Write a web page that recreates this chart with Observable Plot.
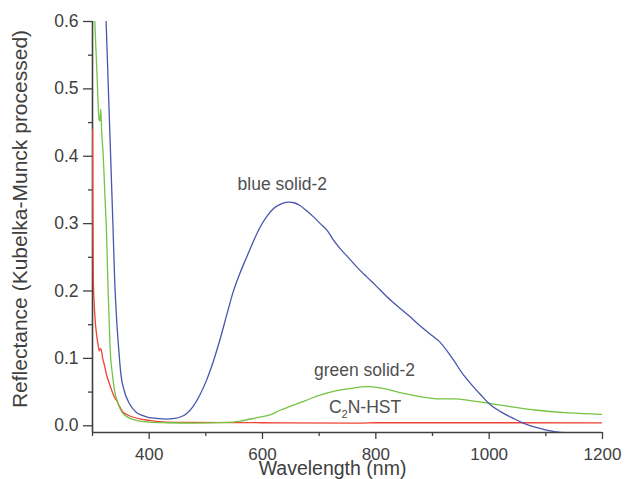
<!DOCTYPE html>
<html>
<head>
<meta charset="utf-8">
<script src="https://cdn.jsdelivr.net/npm/d3@7"></script>
<script src="https://cdn.jsdelivr.net/npm/@observablehq/plot@0.6"></script>
<style>
  html, body { margin: 0; padding: 0; background: #fff; }
  #chart { width: 625px; height: 479px; }
</style>
</head>
<body>
<div id="chart"></div>
<script>
// ---- Data ----
const blueNm  = [322, 324, 328, 332, 336, 339, 342, 346, 350, 356, 365, 377, 389, 400, 413, 430, 445, 455, 466, 477, 489, 501, 513, 525, 537, 548, 560, 572, 584, 596, 608, 619, 632, 646, 656, 666, 678, 690, 702, 714, 725, 737, 750, 765, 784, 800, 820, 843, 860, 880, 902, 911, 935, 955, 970, 985, 1001, 1020, 1044, 1060, 1073, 1090, 1103, 1120, 1144, 1170, 1200];
const blueVal = [0.64, 0.60, 0.50, 0.40, 0.30, 0.22, 0.166, 0.117, 0.077, 0.052, 0.033, 0.020, 0.015, 0.012, 0.011, 0.010, 0.011, 0.013, 0.018, 0.028, 0.045, 0.067, 0.095, 0.128, 0.165, 0.198, 0.226, 0.250, 0.274, 0.295, 0.311, 0.322, 0.329, 0.332, 0.331, 0.327, 0.319, 0.310, 0.300, 0.290, 0.276, 0.263, 0.251, 0.237, 0.221, 0.208, 0.191, 0.174, 0.162, 0.147, 0.132, 0.126, 0.100, 0.075, 0.060, 0.046, 0.032, 0.021, 0.0104, 0.004, 0.000, -0.004, -0.007, -0.009, -0.011, -0.013, -0.015];

const greenNm  = [302, 304, 308, 311, 312.5, 313.5, 314.5, 316, 319, 322, 325, 327, 329, 331, 335, 339, 345, 352, 362, 377, 401, 430, 480, 537, 560, 590, 613, 631, 650, 675, 700, 731, 760, 784, 810, 849, 880, 908, 938, 970, 1003, 1040, 1085, 1140, 1200];
const greenVal = [0.64, 0.60, 0.52, 0.46, 0.452, 0.455, 0.47, 0.44, 0.40, 0.34, 0.28, 0.216, 0.166, 0.117, 0.077, 0.052, 0.033, 0.020, 0.0128, 0.0079, 0.0054, 0.0045, 0.004, 0.005, 0.007, 0.012, 0.016, 0.023, 0.029, 0.037, 0.045, 0.052, 0.056, 0.058, 0.056, 0.048, 0.043, 0.040, 0.040, 0.037, 0.033, 0.028, 0.023, 0.019, 0.017];

const redNm  = [300, 300.7, 301.5, 304, 308, 311, 312, 313.5, 315, 318, 321, 325, 330, 335, 339, 343, 347, 354, 362, 371, 385, 400, 430, 480, 600, 770, 800, 1000, 1200];
const redVal = [0.44, 0.30, 0.216, 0.166, 0.13, 0.115, 0.111, 0.114, 0.114, 0.10, 0.09, 0.075, 0.062, 0.05, 0.042, 0.037, 0.030, 0.020, 0.016, 0.013, 0.010, 0.008, 0.0055, 0.005, 0.0045, 0.0040, 0.0045, 0.0045, 0.0042];

const yMajor = [0, 0.1, 0.2, 0.3, 0.4, 0.5, 0.6];
const yMinor = [0.05, 0.15, 0.25, 0.35, 0.45, 0.55];
const xMajor = [400, 600, 800, 1000, 1200];
const xMinor = [300, 500, 700, 900, 1100];

const labelText = ["blue solid-2", "green solid-2", "C2N-HST"];
const labelNm   = [635, 780, 781];
const labelVal  = [0.3575, 0.0815, 0.0266];

const xTitle = "Wavelength (nm)";
const yTitle = "Reflectance (Kubelka-Munck processed)";

// ---- Build tables ----
const toRows = (xs, ys) => xs.map((x, i) => ({nm: x, v: ys[i]}));
const blue = toRows(blueNm, blueVal);
const green = toRows(greenNm, greenVal);
const red = toRows(redNm, redVal);
const labels = labelText.map((t, i) => ({t, nm: labelNm[i], v: labelVal[i]}));

const font = "'Liberation Sans', Arial, Helvetica, sans-serif";
const axisColor = "#404040";

const chart = Plot.plot({
  width: 625,
  height: 479,
  marginLeft: 92,
  marginRight: 23,
  marginTop: 21,
  marginBottom: 47,
  x: {domain: [300, 1200]},
  y: {domain: [-0.01, 0.6]},
  style: {fontFamily: font, color: axisColor, background: "#fff"},
  marks: [
    Plot.axisY({ticks: yMajor, tickSize: 9, tickPadding: 5, tickFormat: d3.format(".1f"), fontSize: 17.5, label: null, stroke: axisColor, strokeWidth: 1.3}),
    Plot.axisY({ticks: yMinor, tickSize: 4, tickFormat: () => "", label: null, stroke: axisColor, strokeWidth: 1.3}),
    Plot.axisX({ticks: xMajor, tickSize: 7, tickPadding: 8, tickFormat: d3.format("d"), fontSize: 17, label: null, stroke: axisColor, strokeWidth: 1.3}),
    Plot.axisX({ticks: xMinor, tickSize: 4, tickFormat: () => "", label: null, stroke: axisColor, strokeWidth: 1.3}),
    Plot.ruleX([300], {stroke: axisColor, strokeWidth: 1.6}),
    Plot.ruleY([-0.01], {stroke: axisColor, strokeWidth: 1.6}),
    Plot.line(red, {x: "nm", y: "v", stroke: "#ee4433", strokeWidth: 1.3, curve: "monotone-x", clip: true}),
    Plot.line(green, {x: "nm", y: "v", stroke: "#74c444", strokeWidth: 1.3, curve: "monotone-x", clip: true}),
    Plot.line(blue, {x: "nm", y: "v", stroke: "#4855ad", strokeWidth: 1.3, curve: "monotone-x", clip: true}),
    Plot.text(labels, {x: "nm", y: "v", text: "t", fontSize: 17.5, fill: "#505050", textAnchor: "middle", lineAnchor: "middle"}),
    Plot.text([xTitle], {text: d => d, frameAnchor: "bottom", textAnchor: "middle", lineAnchor: "middle", dx: -15, dy: 36, fontSize: 19.5, fill: "#404040"}),
    Plot.text([yTitle], {text: d => d, frameAnchor: "left", textAnchor: "middle", lineAnchor: "middle", rotate: -90, dx: -72, dy: -8, fontSize: 21, fill: "#404040"})
  ]
});

document.getElementById("chart").appendChild(chart);

// Subscript for C2N-HST
chart.querySelectorAll("text").forEach(el => {
  if (el.textContent === "C2N-HST") {
    el.textContent = "";
    const ns = "http://www.w3.org/2000/svg";
    const a = document.createElementNS(ns, "tspan"); a.textContent = "C";
    const b = document.createElementNS(ns, "tspan"); b.textContent = "2";
    b.setAttribute("font-size", "11"); b.setAttribute("dy", "5");
    const c = document.createElementNS(ns, "tspan"); c.textContent = "N-HST";
    c.setAttribute("dy", "-5");
    el.appendChild(a); el.appendChild(b); el.appendChild(c);
  }
});
</script>
</body>
</html>
